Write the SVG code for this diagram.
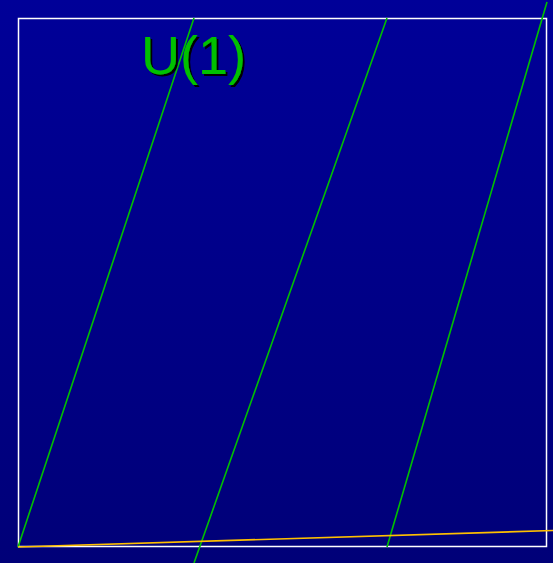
<svg xmlns="http://www.w3.org/2000/svg" width="553" height="563" viewBox="0 0 553 563">
<defs>
<linearGradient id="bg" x1="0" y1="0" x2="0" y2="1">
<stop offset="0" stop-color="#000098"/>
<stop offset="1" stop-color="#000078"/>
</linearGradient>
<filter id="sh" x="-10%" y="-10%" width="130%" height="130%">
<feDropShadow dx="2" dy="2" stdDeviation="0" flood-color="#000000" flood-opacity="1"/>
</filter>
</defs>
<style>
.g{stroke:#00C000;stroke-width:1.6;fill:none}
.t{font-family:"Liberation Sans",Arial,sans-serif;font-size:54px;fill:#00C000}
</style>
<rect x="0" y="0" width="553" height="563" fill="url(#bg)"/>
<rect id="frame" x="18.5" y="18.5" width="528" height="528" fill="none" stroke="#FFFFFF" stroke-width="1.5"/>
<g id="connectors">
<line class="g" x1="18" y1="547" x2="194" y2="18"/>
<line class="g" x1="194" y1="563" x2="387" y2="18"/>
<line class="g" x1="387" y1="547" x2="547" y2="2"/>
<line x1="18" y1="547" x2="553" y2="530.5" stroke="#FFC000" stroke-width="1.6"/>
</g>
<g id="label">
<text class="t" x="141" y="74" filter="url(#sh)">U(1)</text>
</g>
</svg>
